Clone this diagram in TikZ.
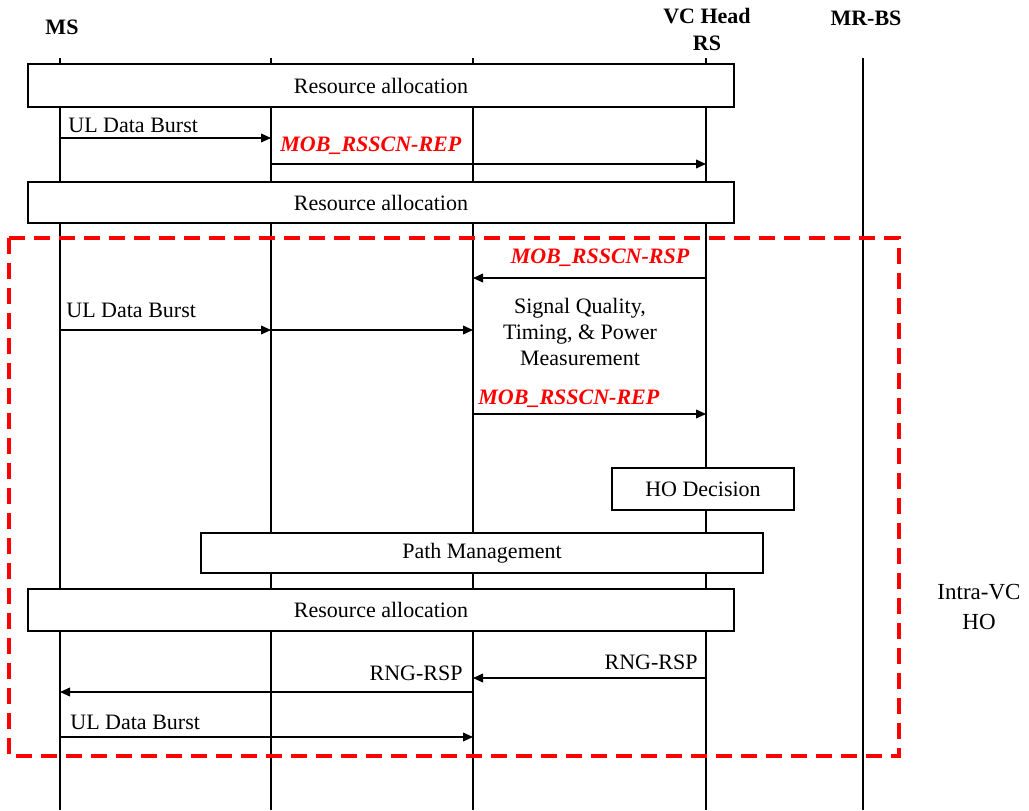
\documentclass[tikz,border=0pt]{standalone}
\usepackage{fontspec}
\setmainfont{Liberation Serif}
\usetikzlibrary{positioning}
\usetikzlibrary{arrows.meta}
\tikzset{x=0.5pt, y=-0.5pt, % One unit is one pixel of the sketch, y grows downwards
lifeline/.style={ % Vertical line of each station
line width=0.65pt},
actbox/.style={ % Boxes laid over the lifelines
draw,
line width=0.75pt,
fill=white,
inner sep=0pt,
font=\fontsize{11}{13}\selectfont},
msg/.style={ % Messages between stations
line width=0.65pt,
-{Triangle[length=5pt,width=4.4pt]}},
lbl/.style={ % Plain text labels
inner sep=0pt,
font=\fontsize{11}{13}\selectfont},
redlbl/.style={ % MOB messages
inner sep=0pt,
text=red,
font=\fontsize{11}{13}\selectfont\bfseries\itshape},
head/.style={ % Station names
inner sep=0pt,
align=center,
font=\fontsize{11}{13.5}\selectfont\bfseries},
hoframe/.style={ % Handover region
draw=red,
line width=1.7pt,
dash pattern=on 8pt off 4.5pt}}

\begin{document}
\begin{tikzpicture}
					\useasboundingbox (0,0) rectangle (1029,810);

					\node[head] (msname) at (62,27) {MS};
					\node[head] (vcname) at (707,29) {VC Head\\RS};
					\node[head] (bsname) at (866,18) {MR-BS};

					\foreach \n/\x in {ms/60, rs1/271, rs2/473, vc/706, bs/863} {
						\coordinate (\n) at (\x,58);
						\coordinate (\n-end) at (\x,810);
						\draw[lifeline] (\n) -- (\n-end);
					}

					\node[actbox, minimum width=353pt, minimum height=21.5pt] (ra1) at (381,85.5) {Resource allocation};

					\coordinate (m1) at (0,138);
					\draw[msg] (ms |- m1) -- (rs1 |- m1);
					\node[lbl, anchor=west] (l1) at (68,125) {UL Data Burst};

					\coordinate (m2) at (0,164);
					\draw[msg] (rs1 |- m2) -- (vc |- m2);
					\node[redlbl, anchor=west] (l2) at (280,146) {MOB\_RSSCN-REP};

					\node[actbox, minimum width=353pt, minimum height=20.5pt] (ra2) at (381,202.5) {Resource allocation};

					\coordinate (m3) at (0,278);
					\draw[msg] (vc |- m3) -- (rs2 |- m3);
					\node[redlbl] (l3) at (600,258) {MOB\_RSSCN-RSP};

					\coordinate (m4) at (0,330);
					\draw[msg] (ms |- m4) -- (rs1 |- m4);
					\draw[msg] (rs1 |- m4) -- (rs2 |- m4);
					\node[lbl, anchor=west] (l4) at (66,310) {UL Data Burst};

					\node[lbl, align=center] (meas) at (580,332) {Signal Quality,\\Timing, \& Power\\Measurement};

					\coordinate (m5) at (0,414);
					\draw[msg] (rs2 |- m5) -- (vc |- m5);
					\node[redlbl, anchor=west] (l5) at (478,399) {MOB\_RSSCN-REP};

					\node[actbox, minimum width=91pt, minimum height=21pt] (hod) at (703,489) {HO Decision};
					\node[actbox, minimum width=281pt, minimum height=20pt] (pm) at (482,553) {Path Management};
					\node[actbox, minimum width=353pt, minimum height=21pt] (ra3) at (381,610) {Resource allocation};

					\coordinate (m6) at (0,678);
					\draw[msg] (vc |- m6) -- (rs2 |- m6);
					\node[lbl, anchor=east] (l6) at (698,662) {RNG-RSP};

					\coordinate (m7) at (0,692);
					\draw[msg] (rs2 |- m7) -- (ms |- m7);
					\node[lbl, anchor=east] (l7) at (463,673) {RNG-RSP};

					\coordinate (m8) at (0,737);
					\draw[msg] (ms |- m8) -- (rs2 |- m8);
					\node[lbl, anchor=west] (l8) at (70,722) {UL Data Burst};

					% handover region
					\coordinate (ho-nw) at (9,238);
					\coordinate (ho-se) at (899,756);
					\draw[hoframe] (ho-nw) rectangle (ho-se);
					\node[lbl, align=center, font=\fontsize{11.5}{15}\selectfont] (honame) at (979,607) {Intra-VC\\HO};
				\end{tikzpicture}
\end{document}
